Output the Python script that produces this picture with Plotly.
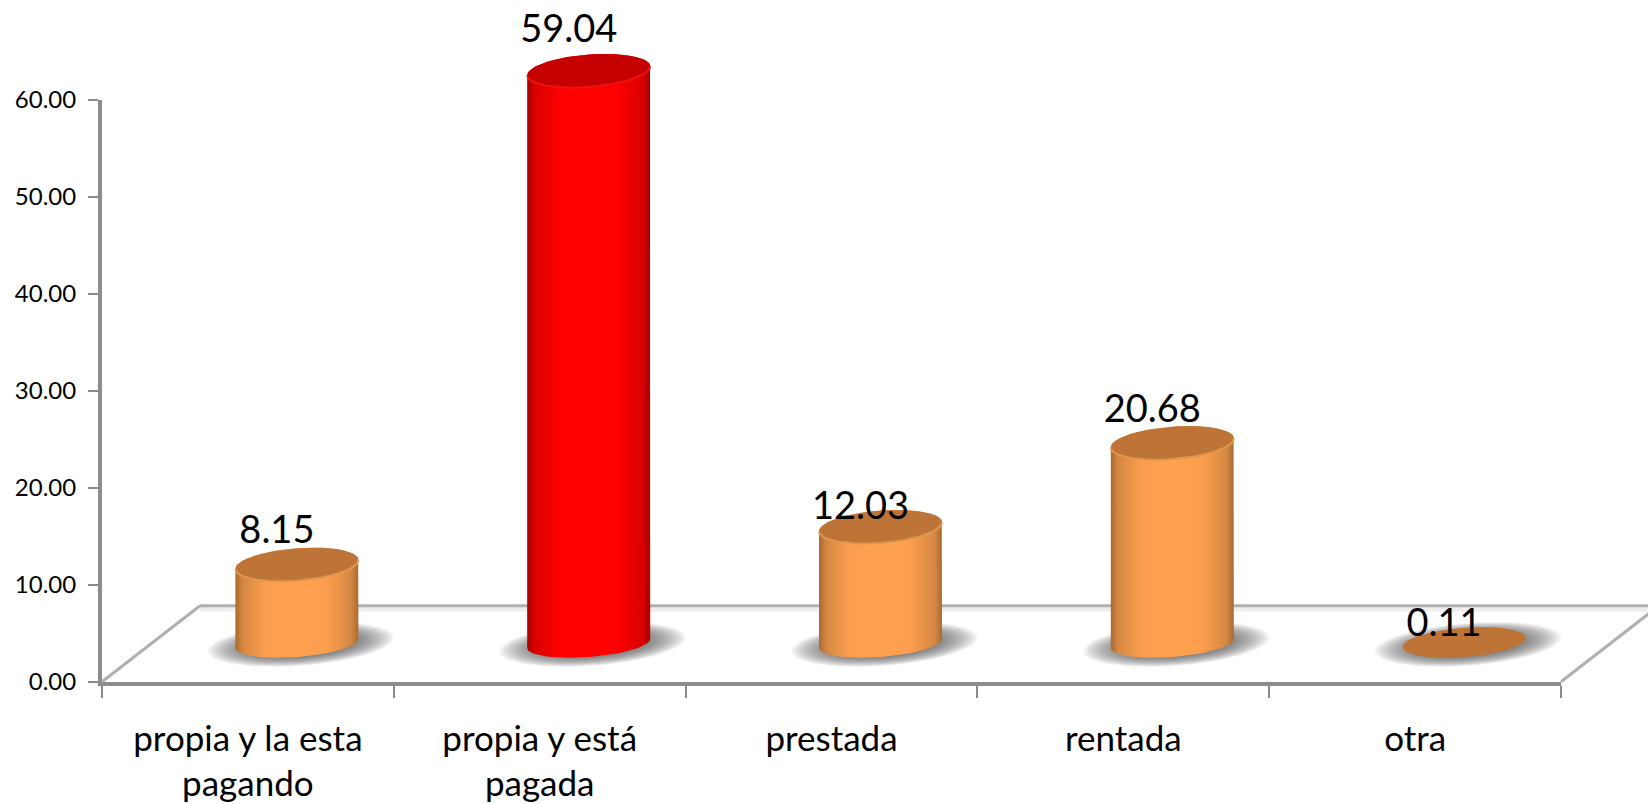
import numpy as np
import plotly.graph_objects as go

# ---- data ----
categories = ["propia y la esta<br>pagando", "propia y está<br>pagada", "prestada", "rentada", "otra"]
values = [8.15, 59.04, 12.03, 20.68, 0.11]
label_texts = ["8.15", "59.04", "12.03", "20.68", "0.11"]
bar_kinds = ["orange", "red", "orange", "orange", "orange"]
y_ticks = [0, 10, 20, 30, 40, 50, 60]

# ---- layout constants ----
W, H = 1648, 804
AX_L, AX_R, AX_T, AX_B = 102.0, 1561.0, 99.7, 681.7
PX_X = (AX_R - AX_L) / 5.0
PX_Y = (AX_B - AX_T) / 60.0
FLOOR_LIFT = 3.94        # axis units between the front edge and the bars' base plane
BAR_DX = 49.0 / PX_X     # perspective shift of the bars from the category centre
RX = 61.5 / PX_X
RY = 16.2 / PX_Y
SHEAR = 4.5 / PX_Y
LABEL_DX = -20.0 / PX_X
LABEL_GAP = [31, 38, 17, 30, 16]

STYLES = {
    "orange": dict(
        top="#bd7436", rim="#e0964e",
        side=[[0, "#a9692f"], [0.06, "#d58843"], [0.25, "#fb9d4e"], [0.5, "#ffa24f"],
              [0.75, "#fb9d4e"], [0.94, "#d58843"], [1, "#a9692f"]]),
    "red": dict(
        top="#c40000", rim="#f01010",
        side=[[0, "#a80000"], [0.07, "#dc0000"], [0.28, "#ff0000"], [0.5, "#ff0000"],
              [0.72, "#ff0000"], [0.93, "#dc0000"], [1, "#a80000"]]),
}

fig = go.Figure()
centers = np.arange(len(values), dtype=float) + BAR_DX
tops = np.array(values) + FLOOR_LIFT


def ell(cx, cy, t, sx=1.0, sy=1.0):
    return cx + RX * sx * np.cos(t), cy + RY * sy * np.sin(t) + SHEAR * sx * np.cos(t)


def add(**kw):
    fig.add_trace(go.Scatter(xaxis="x2", yaxis="y2", hoverinfo="skip", showlegend=False,
                             cliponaxis=False, **kw))


def line(xs, ys, color, width):
    add(x=xs, y=ys, mode="lines", line=dict(color=color, width=width))


# floor outline
depth_x = 98.0 / PX_X
depth_y = 76.0 / PX_Y
line([-0.5 + depth_x, 4.5 + depth_x + 0.1], [depth_y - 0.35] * 2, "#ededed", 5)
line([-0.5 + depth_x, 4.5 + depth_x + 0.1], [depth_y] * 2, "#b0b0b0", 3)
line([-0.5, -0.5 + depth_x], [0, depth_y], "#b0b0b0", 3)
line([4.5, 4.5 + depth_x], [0, depth_y], "#b0b0b0", 3)

# soft shadows
t_full = np.linspace(0, 2 * np.pi, 73)
for s in np.linspace(1.0, 0.58, 20):
    xs, ys = [], []
    for c in centers:
        ex, ey = ell(c + 4 / PX_X, FLOOR_LIFT - 0.1, t_full, 1.52 * s, 1.33 * s)
        xs += list(ex) + [None]
        ys += list(ey) + [None]
    add(x=xs, y=ys, mode="lines", fill="toself", line=dict(width=0),
        fillcolor="rgba(75,75,75,0.052)")

# cylinders
t_low = np.linspace(np.pi, 2 * np.pi, 37)
t_up = np.linspace(0, np.pi, 37)
for c, top, kind, v in zip(centers, tops, bar_kinds, values):
    st = STYLES[kind]
    if v > 1:
        bx, by = ell(c, FLOOR_LIFT, t_low, 1.0, 0.83)
        ux, uy = ell(c, top, t_up)
        add(x=list(bx) + list(ux), y=list(by) + list(uy), mode="lines", fill="toself",
            line=dict(width=0),
            fillgradient=dict(type="horizontal", colorscale=st["side"]))
    ex, ey = ell(c, top, t_full, 1.0, 1.0 if v > 1 else 0.9)
    add(x=ex, y=ey, mode="lines", fill="toself", line=dict(width=0), fillcolor=st["top"])
    if v > 1:
        rx, ry = ell(c, top, t_low)
        line(rx, ry, st["rim"], 2)

# value labels
label_y = tops + np.array(LABEL_GAP) / PX_Y
add(x=centers + LABEL_DX, y=label_y, mode="text", text=label_texts,
    textposition="middle center", textfont=dict(family="Lato", size=38, color="#000000"))

# invisible trace carrying the category axis
fig.add_trace(go.Bar(x=categories, y=values, opacity=0, hoverinfo="skip", showlegend=False))

fig.update_layout(
    width=W, height=H, paper_bgcolor="white", plot_bgcolor="rgba(0,0,0,0)", showlegend=False,
    margin=dict(l=0, r=0, t=0, b=0, pad=0, autoexpand=False),
    xaxis=dict(
        type="category", domain=[AX_L / W, AX_R / W], anchor="y", categoryorder="array",
        categoryarray=categories, tickson="boundaries", ticks="outside", ticklen=12, tickwidth=2,
        tickcolor="#8c8c8c", showline=True, linecolor="#8c8c8c", linewidth=4, showgrid=False,
        tickangle=0, ticklabelstandoff=23, automargin=False,
        tickfont=dict(family="Lato", size=35, color="#000000"), fixedrange=True),
    yaxis=dict(
        range=[0, 60], domain=[(H - AX_B) / H, (H - AX_T) / H], anchor="x", tickvals=y_ticks,
        tickformat=".2f", ticks="outside", ticklen=10, tickwidth=2, automargin=False,
        tickcolor="#8c8c8c", showline=True, linecolor="#8c8c8c", linewidth=4, showgrid=False,
        zeroline=False, ticklabelstandoff=7,
        tickfont=dict(family="Lato", size=24, color="#000000"), fixedrange=True),
    # full-page axes sharing the same scale as the visible ones, so tall marks are not clipped
    xaxis2=dict(domain=[0, 1], anchor="y2", visible=False, fixedrange=True,
                range=[-0.5 - AX_L / PX_X, -0.5 + (W - AX_L) / PX_X]),
    yaxis2=dict(domain=[0, 1], anchor="x2", visible=False, fixedrange=True,
                range=[-(H - AX_B) / PX_Y, AX_B / PX_Y]),
)

fig.write_html("out.html", config=dict(displayModeBar=False),
               post_script="document.body.style.margin='0';")
